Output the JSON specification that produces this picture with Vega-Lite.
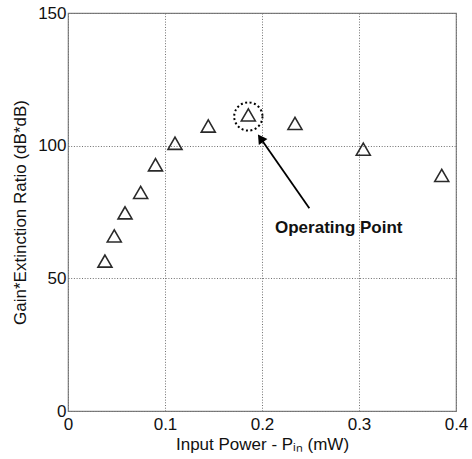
{
  "$schema": "https://vega.github.io/schema/vega-lite/v6.json",
  "width": 388,
  "height": 398,
  "autosize": {"type": "none"},
  "padding": {"left": 68, "top": 13, "right": 16, "bottom": 48},
  "background": "white",
  "config": {
    "font": "Liberation Sans",
    "view": {"stroke": "#808080", "strokeWidth": 1.2},
    "axis": {
      "domain": false,
      "ticks": false,
      "grid": true,
      "gridColor": "#707070",
      "gridDash": [1, 1.7],
      "gridWidth": 1,
      "labelFont": "Liberation Sans",
      "labelFontSize": 17,
      "labelColor": "#111111",
      "labelFlush": false,
      "labelOverlap": false,
      "titleFont": "Liberation Sans",
      "titleFontSize": 17,
      "titleFontWeight": "normal",
      "titleColor": "#111111"
    }
  },
  "datasets": {
    "points": [
      {"x": 0.0381, "y": 56.5},
      {"x": 0.0477, "y": 66.0},
      {"x": 0.0588, "y": 74.7},
      {"x": 0.0749, "y": 82.4},
      {"x": 0.0902, "y": 92.8},
      {"x": 0.1103, "y": 100.9},
      {"x": 0.1446, "y": 107.4},
      {"x": 0.1859, "y": 111.6},
      {"x": 0.234, "y": 108.4},
      {"x": 0.3044, "y": 98.7},
      {"x": 0.3853, "y": 88.8}
    ],
    "circle": [{"x": 0.1859, "y": 111.0}],
    "arrow": [{"x": 0.2488, "y": 76.4, "x2": 0.1985, "y2": 102.8}],
    "head": [{"x": 0.1985, "y": 102.8}],
    "label": [{"x": 0.2134, "y": 67.1, "text": "Operating Point"}]
  },
  "layer": [
    {
      "data": {"name": "points"},
      "mark": {"type": "point", "shape": "triangle-up", "size": 196, "filled": false, "stroke": "#2a2a2a", "strokeWidth": 1.6, "opacity": 1},
      "encoding": {
        "x": {
          "field": "x", "type": "quantitative",
          "scale": {"domain": [0, 0.4], "nice": false, "zero": true},
          "axis": {"values": [0, 0.1, 0.2, 0.3, 0.4], "format": "~g", "labelPadding": 5, "title": "Input Power - Pᵢₙ (mW)", "titlePadding": 4}
        },
        "y": {
          "field": "y", "type": "quantitative",
          "scale": {"domain": [0, 150], "nice": false},
          "axis": {"values": [0, 50, 100, 150], "labelPadding": 2, "title": "Gain*Extinction Ratio (dB*dB)", "titleX": -48, "titleBaseline": "middle"}
        }
      }
    },
    {
      "data": {"name": "circle"},
      "mark": {"type": "point", "shape": "circle", "size": 800, "filled": false, "stroke": "#000000", "strokeWidth": 2, "strokeDash": [2, 2.5], "opacity": 1},
      "encoding": {
        "x": {"field": "x", "type": "quantitative"},
        "y": {"field": "y", "type": "quantitative"}
      }
    },
    {
      "data": {"name": "arrow"},
      "mark": {"type": "rule", "color": "#000000", "strokeWidth": 1.8},
      "encoding": {
        "x": {"field": "x", "type": "quantitative"},
        "y": {"field": "y", "type": "quantitative"},
        "x2": {"field": "x2"},
        "y2": {"field": "y2"}
      }
    },
    {
      "data": {"name": "head"},
      "mark": {"type": "point", "shape": "triangle-up", "size": 110, "filled": true, "color": "#000000", "angle": 325.3, "opacity": 1},
      "encoding": {
        "x": {"field": "x", "type": "quantitative"},
        "y": {"field": "y", "type": "quantitative"}
      }
    },
    {
      "data": {"name": "label"},
      "mark": {"type": "text", "align": "left", "baseline": "alphabetic", "fontWeight": "bold", "fontSize": 17, "font": "Liberation Sans", "color": "#111111"},
      "encoding": {
        "x": {"field": "x", "type": "quantitative"},
        "y": {"field": "y", "type": "quantitative"},
        "text": {"field": "text"}
      }
    }
  ]
}
